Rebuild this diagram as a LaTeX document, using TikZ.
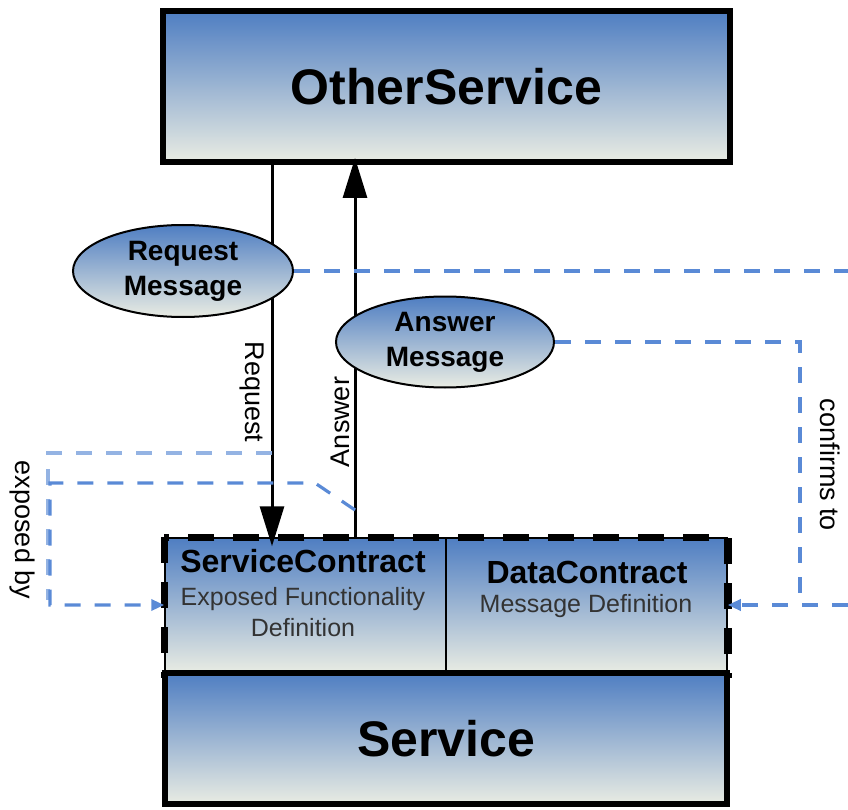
\documentclass[tikz,border=0pt]{standalone}
\usepackage{fontspec}
\setmainfont{Liberation Sans}
\usetikzlibrary{arrows.meta,shapes.geometric}

\definecolor{shadetop}{HTML}{4F7EC2}
\definecolor{shadebot}{HTML}{E9ECE3}
\definecolor{linkblue}{HTML}{5A8AD6}
\definecolor{linklight}{HTML}{94B3E3}

\begin{document}
\begin{tikzpicture}[x=1pt,y=-1pt,
  shaded/.style={top color=shadetop, bottom color=shadebot},
  bigbox/.style={rectangle, shaded, draw=black, line width=6pt, inner sep=0pt,
    font=\bfseries\fontsize{50}{58}\selectfont},
  contractbox/.style={rectangle, shaded, draw=black, line width=1.5pt, inner sep=0pt},
  contractrim/.style={draw=black, line width=7.5pt, dash pattern=on 26pt off 19pt},
  msg/.style={ellipse, shaded, draw=black, line width=2pt, inner sep=0pt,
    align=center, font=\bfseries\fontsize{28}{35}\selectfont},
  flow/.style={draw=black, line width=3pt, -{Triangle[length=40pt,width=24pt]}},
  link/.style={draw=linkblue, line width=3.2pt, dash pattern=on 16pt off 14pt},
  linkfaint/.style={draw=linklight, line width=3.2pt, dash pattern=on 16pt off 14pt},
  linktip/.style={-{Triangle[length=13pt,width=11pt]}},
  title/.style={font=\bfseries\fontsize{32}{37}\selectfont},
  subtitle/.style={font=\fontsize{25}{31}\selectfont, align=center, text=black!80},
  lbl/.style={font=\fontsize{27}{32}\selectfont, inner sep=0pt}
]
\useasboundingbox (0,0) rectangle (848,810);

% anchor points of the connectors
\coordinate (reqx) at (272,0);
\coordinate (ansx) at (355,0);
\coordinate (divx) at (446,0);
\coordinate (rimA) at (848,271);
\coordinate (bendB) at (800,605);
\coordinate (rimB) at (848,605);
\coordinate (tapR) at (272,453);
\coordinate (tapA) at (355,510);
\coordinate (kinkA) at (315,483);
\coordinate (cornerR) at (48,600);
\coordinate (leftA) at (50,483);
\coordinate (inY) at (0,605);

% services and contracts
\node[bigbox, minimum width=567pt, minimum height=151pt] (other) at (446.5,86.5) {OtherService};
\node[contractbox, minimum width=562pt, minimum height=135pt] (contract) at (446,605.5) {};
\draw[black, line width=2pt] (contract.north -| divx) -- (contract.south -| divx);
\draw[contractrim] (contract.north west) rectangle (contract.south east);
\node[bigbox, minimum width=562pt, minimum height=131pt] (service) at (446,738.5) {Service};

\node[title] (sctitle) at (303,561) {ServiceContract};
\node[subtitle] (scsub) at (303,612) {Exposed Functionality\\Definition};
\node[title] (dctitle) at (587,572) {DataContract};
\node[subtitle] (dcsub) at (586,606) {Message Definition};

% request / answer flow
\draw[flow] (other.south -| reqx) -- ([yshift=-9pt]contract.north -| reqx);
\draw[flow] (contract.north -| ansx) -- ([yshift=7pt]other.south -| ansx);

\node[lbl, rotate=-90] (reqlbl) at (252,392) {Request};
\node[lbl, rotate=90] (anslbl) at (340,422) {Answer};

% dependency links
\draw[linkfaint] (tapR) -| (cornerR);
\draw[link, linktip] (tapA) -- (kinkA) -- (leftA) |- (contract.west |- inY);
\node[lbl, rotate=-90] (exposed) at (22,530) {exposed by};

% messages
\node[msg, minimum width=220pt, minimum height=92pt] (reqmsg) at (183,271) {Request\\Message};
\node[msg, minimum width=218pt, minimum height=91pt] (ansmsg) at (445,342) {Answer\\Message};

\draw[link] (reqmsg.east) -- (rimA);
\draw[link] (ansmsg.east) -| (bendB);
\draw[link, linktip] (rimB) -- (contract.east |- rimB);
\node[lbl, rotate=-90] (confirms) at (830,465) {confirms to};
\end{tikzpicture}
\end{document}
